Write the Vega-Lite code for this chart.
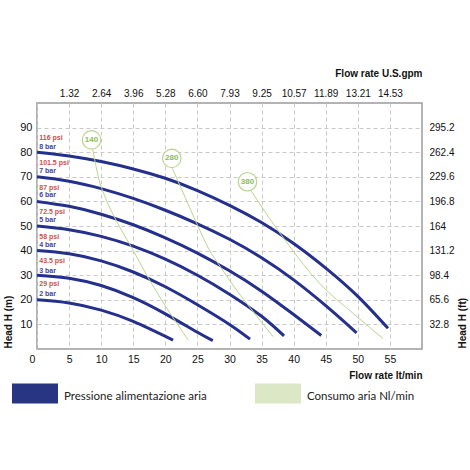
{
  "$schema": "https://vega.github.io/schema/vega-lite/v6.json",
  "width": 385,
  "height": 246,
  "autosize": {"type": "none"},
  "padding": {"left": 37, "top": 103, "right": 48, "bottom": 121},
  "background": "white",
  "datasets": {
    "pressure": [
      {"series": "8 bar", "kind": "Pressione alimentazione aria", "x": 0, "y": 80},
      {"series": "8 bar", "kind": "Pressione alimentazione aria", "x": 5, "y": 78.5},
      {"series": "8 bar", "kind": "Pressione alimentazione aria", "x": 10, "y": 76.2},
      {"series": "8 bar", "kind": "Pressione alimentazione aria", "x": 15, "y": 73.2},
      {"series": "8 bar", "kind": "Pressione alimentazione aria", "x": 20, "y": 69.4},
      {"series": "8 bar", "kind": "Pressione alimentazione aria", "x": 25, "y": 64.4},
      {"series": "8 bar", "kind": "Pressione alimentazione aria", "x": 30, "y": 58.4},
      {"series": "8 bar", "kind": "Pressione alimentazione aria", "x": 35, "y": 51.4},
      {"series": "8 bar", "kind": "Pressione alimentazione aria", "x": 40, "y": 42.9},
      {"series": "8 bar", "kind": "Pressione alimentazione aria", "x": 45, "y": 32.9},
      {"series": "8 bar", "kind": "Pressione alimentazione aria", "x": 50, "y": 21.4},
      {"series": "8 bar", "kind": "Pressione alimentazione aria", "x": 54.7, "y": 8.4},
      {"series": "7 bar", "kind": "Pressione alimentazione aria", "x": 0, "y": 70},
      {"series": "7 bar", "kind": "Pressione alimentazione aria", "x": 5, "y": 68.2},
      {"series": "7 bar", "kind": "Pressione alimentazione aria", "x": 10, "y": 65.2},
      {"series": "7 bar", "kind": "Pressione alimentazione aria", "x": 15, "y": 61.2},
      {"series": "7 bar", "kind": "Pressione alimentazione aria", "x": 20, "y": 56.4},
      {"series": "7 bar", "kind": "Pressione alimentazione aria", "x": 25, "y": 50.9},
      {"series": "7 bar", "kind": "Pressione alimentazione aria", "x": 30, "y": 44.6},
      {"series": "7 bar", "kind": "Pressione alimentazione aria", "x": 35, "y": 37.1},
      {"series": "7 bar", "kind": "Pressione alimentazione aria", "x": 40, "y": 28.1},
      {"series": "7 bar", "kind": "Pressione alimentazione aria", "x": 45, "y": 17.6},
      {"series": "7 bar", "kind": "Pressione alimentazione aria", "x": 49.8, "y": 6.6},
      {"series": "6 bar", "kind": "Pressione alimentazione aria", "x": 0, "y": 60},
      {"series": "6 bar", "kind": "Pressione alimentazione aria", "x": 5, "y": 58},
      {"series": "6 bar", "kind": "Pressione alimentazione aria", "x": 10, "y": 54.8},
      {"series": "6 bar", "kind": "Pressione alimentazione aria", "x": 15, "y": 50.5},
      {"series": "6 bar", "kind": "Pressione alimentazione aria", "x": 20, "y": 45.2},
      {"series": "6 bar", "kind": "Pressione alimentazione aria", "x": 25, "y": 39},
      {"series": "6 bar", "kind": "Pressione alimentazione aria", "x": 30, "y": 31.8},
      {"series": "6 bar", "kind": "Pressione alimentazione aria", "x": 35, "y": 23.5},
      {"series": "6 bar", "kind": "Pressione alimentazione aria", "x": 40, "y": 14},
      {"series": "6 bar", "kind": "Pressione alimentazione aria", "x": 44.3, "y": 5.5},
      {"series": "5 bar", "kind": "Pressione alimentazione aria", "x": 0, "y": 50},
      {"series": "5 bar", "kind": "Pressione alimentazione aria", "x": 5, "y": 48.5},
      {"series": "5 bar", "kind": "Pressione alimentazione aria", "x": 10, "y": 45.8},
      {"series": "5 bar", "kind": "Pressione alimentazione aria", "x": 15, "y": 41.8},
      {"series": "5 bar", "kind": "Pressione alimentazione aria", "x": 20, "y": 36.5},
      {"series": "5 bar", "kind": "Pressione alimentazione aria", "x": 25, "y": 30},
      {"series": "5 bar", "kind": "Pressione alimentazione aria", "x": 30, "y": 22.3},
      {"series": "5 bar", "kind": "Pressione alimentazione aria", "x": 35, "y": 13.3},
      {"series": "5 bar", "kind": "Pressione alimentazione aria", "x": 38.5, "y": 5.3},
      {"series": "4 bar", "kind": "Pressione alimentazione aria", "x": 0, "y": 40},
      {"series": "4 bar", "kind": "Pressione alimentazione aria", "x": 5, "y": 38.7},
      {"series": "4 bar", "kind": "Pressione alimentazione aria", "x": 10, "y": 35.8},
      {"series": "4 bar", "kind": "Pressione alimentazione aria", "x": 15, "y": 31.3},
      {"series": "4 bar", "kind": "Pressione alimentazione aria", "x": 20, "y": 25.3},
      {"series": "4 bar", "kind": "Pressione alimentazione aria", "x": 25, "y": 18},
      {"series": "4 bar", "kind": "Pressione alimentazione aria", "x": 30, "y": 10},
      {"series": "4 bar", "kind": "Pressione alimentazione aria", "x": 33.2, "y": 4},
      {"series": "3 bar", "kind": "Pressione alimentazione aria", "x": 0, "y": 30},
      {"series": "3 bar", "kind": "Pressione alimentazione aria", "x": 5, "y": 28.8},
      {"series": "3 bar", "kind": "Pressione alimentazione aria", "x": 10, "y": 25.8},
      {"series": "3 bar", "kind": "Pressione alimentazione aria", "x": 15, "y": 20.9},
      {"series": "3 bar", "kind": "Pressione alimentazione aria", "x": 20, "y": 14.3},
      {"series": "3 bar", "kind": "Pressione alimentazione aria", "x": 25, "y": 6.8},
      {"series": "3 bar", "kind": "Pressione alimentazione aria", "x": 27.4, "y": 3.4},
      {"series": "2 bar", "kind": "Pressione alimentazione aria", "x": 0, "y": 20},
      {"series": "2 bar", "kind": "Pressione alimentazione aria", "x": 5, "y": 18.7},
      {"series": "2 bar", "kind": "Pressione alimentazione aria", "x": 10, "y": 15.8},
      {"series": "2 bar", "kind": "Pressione alimentazione aria", "x": 15, "y": 11.2},
      {"series": "2 bar", "kind": "Pressione alimentazione aria", "x": 21.2, "y": 3.6}
    ],
    "air": [
      {"series": "140", "kind": "Consumo aria Nl/min", "x": 8.7, "y": 81},
      {"series": "140", "kind": "Consumo aria Nl/min", "x": 9.6, "y": 69.5},
      {"series": "140", "kind": "Consumo aria Nl/min", "x": 10.9, "y": 60},
      {"series": "140", "kind": "Consumo aria Nl/min", "x": 12.4, "y": 52},
      {"series": "140", "kind": "Consumo aria Nl/min", "x": 15, "y": 40},
      {"series": "140", "kind": "Consumo aria Nl/min", "x": 17.1, "y": 30},
      {"series": "140", "kind": "Consumo aria Nl/min", "x": 19.4, "y": 20},
      {"series": "140", "kind": "Consumo aria Nl/min", "x": 21.9, "y": 10},
      {"series": "140", "kind": "Consumo aria Nl/min", "x": 23.6, "y": 3.6},
      {"series": "280", "kind": "Consumo aria Nl/min", "x": 21.1, "y": 73.4},
      {"series": "280", "kind": "Consumo aria Nl/min", "x": 22.3, "y": 66.3},
      {"series": "280", "kind": "Consumo aria Nl/min", "x": 24.9, "y": 51},
      {"series": "280", "kind": "Consumo aria Nl/min", "x": 26.7, "y": 41},
      {"series": "280", "kind": "Consumo aria Nl/min", "x": 28.7, "y": 33},
      {"series": "280", "kind": "Consumo aria Nl/min", "x": 30.8, "y": 25},
      {"series": "280", "kind": "Consumo aria Nl/min", "x": 32.7, "y": 18.5},
      {"series": "280", "kind": "Consumo aria Nl/min", "x": 34.8, "y": 11.5},
      {"series": "280", "kind": "Consumo aria Nl/min", "x": 36.8, "y": 5},
      {"series": "380", "kind": "Consumo aria Nl/min", "x": 33.4, "y": 64.2},
      {"series": "380", "kind": "Consumo aria Nl/min", "x": 36, "y": 54},
      {"series": "380", "kind": "Consumo aria Nl/min", "x": 38.9, "y": 43.4},
      {"series": "380", "kind": "Consumo aria Nl/min", "x": 44.1, "y": 26.5},
      {"series": "380", "kind": "Consumo aria Nl/min", "x": 49.3, "y": 14.4},
      {"series": "380", "kind": "Consumo aria Nl/min", "x": 53.9, "y": 4.3}
    ],
    "badges": [
      {"label": "140", "x": 8.5, "y": 85},
      {"label": "280", "x": 21, "y": 77.5},
      {"label": "380", "x": 32.8, "y": 68}
    ],
    "curveLabels": [
      {"text": "116 psi", "kind": "psi", "x": 0.35, "y": 85.8},
      {"text": "8 bar", "kind": "bar", "x": 0.35, "y": 82.1},
      {"text": "101.5 psi", "kind": "psi", "x": 0.35, "y": 75.7},
      {"text": "7 bar", "kind": "bar", "x": 0.35, "y": 72.3},
      {"text": "87 psi", "kind": "psi", "x": 0.35, "y": 65.6},
      {"text": "6 bar", "kind": "bar", "x": 0.35, "y": 62.5},
      {"text": "72.5 psi", "kind": "psi", "x": 0.35, "y": 55.8},
      {"text": "5 bar", "kind": "bar", "x": 0.35, "y": 52.4},
      {"text": "58 psi", "kind": "psi", "x": 0.35, "y": 45.7},
      {"text": "4 bar", "kind": "bar", "x": 0.35, "y": 42.3},
      {"text": "43.5 psi", "kind": "psi", "x": 0.35, "y": 35.6},
      {"text": "3 bar", "kind": "bar", "x": 0.35, "y": 31.9},
      {"text": "29 psi", "kind": "psi", "x": 0.35, "y": 26.5},
      {"text": "2 bar", "kind": "bar", "x": 0.35, "y": 22.2}
    ]
  },
  "layer": [
    {
      "data": {"name": "pressure"},
      "mark": {"type": "line", "interpolate": "natural", "strokeWidth": 3},
      "encoding": {
        "x": {
          "field": "x",
          "type": "quantitative",
          "scale": {"domain": [0, 60], "nice": false, "zero": false},
          "axis": {
            "orient": "bottom",
            "values": [0, 5, 10, 15, 20, 25, 30, 35, 40, 45, 50, 55],
            "grid": true,
            "gridColor": "#c9c9c9",
            "gridDash": [4, 3],
            "gridWidth": 1,
            "domain": false,
            "ticks": false,
            "labelFlush": false,
            "labelFontSize": 10.5,
            "labelPadding": 5,
            "labelOffset": {"condition": {"test": "datum.value === 0", "value": -5}, "value": 0},
            "title": "Flow rate  lt/min",
            "titleFontSize": 10,
            "titleFontWeight": "bold",
            "titleX": 385,
            "titleY": 26,
            "titleAlign": "right",
            "titleBaseline": "middle"
          }
        },
        "y": {
          "field": "y",
          "type": "quantitative",
          "scale": {"domain": [0, 100], "nice": false},
          "axis": {
            "orient": "left",
            "values": [10, 20, 30, 40, 50, 60, 70, 80, 90],
            "grid": true,
            "gridColor": "#c9c9c9",
            "gridDash": [4, 3],
            "gridWidth": 1,
            "domain": false,
            "ticks": false,
            "labelFontSize": 11,
            "labelPadding": 5,
            "title": "Head H (m)",
            "titleFontSize": 10,
            "titleFontWeight": "bold",
            "titleAngle": 270,
            "titleX": -29,
            "titleY": 245,
            "titleAlign": "left",
            "titleBaseline": "middle"
          }
        },
        "detail": {"field": "series", "type": "nominal"},
        "color": {
          "field": "kind",
          "type": "nominal",
          "scale": {
            "domain": ["Pressione alimentazione aria", "Consumo aria Nl/min"],
            "range": ["#24308c", "#bcd48c"]
          },
          "legend": {
            "orient": "none",
            "legendX": -25,
            "legendY": 267,
            "direction": "horizontal",
            "title": null,
            "padding": 0,
            "symbolType": "M-1,-0.435L1,-0.435L1,0.435L-1,0.435Z",
            "symbolSize": 2116,
            "symbolStrokeWidth": 0,
            "labelFont": "Lato",
            "labelFontSize": 11.5,
            "labelColor": "#222",
            "labelOffset": 6,
            "labelLimit": 300,
            "columnPadding": 48,
            "encode": {
              "symbols": {
                "update": {
                  "fill": {"signal": "datum.value === 'Consumo aria Nl/min' ? '#dbe7c5' : '#283583'"},
                  "stroke": {"value": "transparent"},
                  "opacity": {"value": 1}
                }
              },
              "labels": {"update": {"dy": {"value": 4}}}
            }
          }
        }
      }
    },
    {
      "data": {"name": "air"},
      "mark": {"type": "line", "interpolate": "monotone", "strokeWidth": 1},
      "encoding": {
        "x": {
          "field": "x",
          "type": "quantitative",
          "axis": {
            "orient": "top",
            "values": [5, 10, 15, 20, 25, 30, 35, 40, 45, 50, 55],
            "grid": false,
            "domain": false,
            "ticks": false,
            "labelFlush": false,
            "labelExpr": "format(datum.value * 0.264172, '.2f')",
            "labelFontSize": 10,
            "labelPadding": 5,
            "title": "Flow rate U.S.gpm",
            "titleFontSize": 10,
            "titleFontWeight": "bold",
            "titleX": 385,
            "titleY": -30,
            "titleAlign": "right",
            "titleBaseline": "middle"
          }
        },
        "y": {
          "field": "y",
          "type": "quantitative",
          "axis": {
            "orient": "right",
            "values": [10, 20, 30, 40, 50, 60, 70, 80, 90],
            "grid": false,
            "domain": false,
            "ticks": false,
            "labelExpr": "format(datum.value * 3.28, '.1~f')",
            "labelFontSize": 10,
            "labelPadding": 7,
            "title": "Head H (ft)",
            "titleFontSize": 10,
            "titleFontWeight": "bold",
            "titleAngle": 270,
            "titleX": 40,
            "titleY": 245,
            "titleAlign": "left",
            "titleBaseline": "middle"
          }
        },
        "detail": {"field": "series", "type": "nominal"},
        "color": {"field": "kind", "type": "nominal"}
      }
    },
    {
      "data": {"name": "badges"},
      "mark": {"type": "point", "shape": "circle", "size": 340, "filled": true, "fill": "white", "stroke": "#bcd48c", "strokeWidth": 1.2, "opacity": 1},
      "encoding": {
        "x": {"field": "x", "type": "quantitative", "axis": null},
        "y": {"field": "y", "type": "quantitative", "axis": null}
      }
    },
    {
      "data": {"name": "badges"},
      "mark": {"type": "text", "font": "Liberation Sans", "fontSize": 8, "fontWeight": "bold", "color": "#8dbd4c", "align": "center", "baseline": "middle"},
      "encoding": {
        "x": {"field": "x", "type": "quantitative", "axis": null},
        "y": {"field": "y", "type": "quantitative", "axis": null},
        "text": {"field": "label", "type": "nominal"}
      }
    },
    {
      "data": {"name": "curveLabels"},
      "mark": {"type": "text", "font": "Liberation Sans", "fontSize": 7, "fontWeight": "bold", "align": "left", "baseline": "middle"},
      "encoding": {
        "x": {"field": "x", "type": "quantitative", "axis": null},
        "y": {"field": "y", "type": "quantitative", "axis": null},
        "text": {"field": "text", "type": "nominal"},
        "fill": {
          "field": "kind",
          "type": "nominal",
          "scale": {"domain": ["psi", "bar"], "range": ["#cc5050", "#3d47a0"]},
          "legend": null
        }
      }
    }
  ],
  "config": {
    "view": {"stroke": "#9a9a9a", "strokeWidth": 1.5},
    "axis": {"labelFont": "Liberation Sans", "titleFont": "Liberation Sans", "labelColor": "#111", "titleColor": "#111"}
  }
}
